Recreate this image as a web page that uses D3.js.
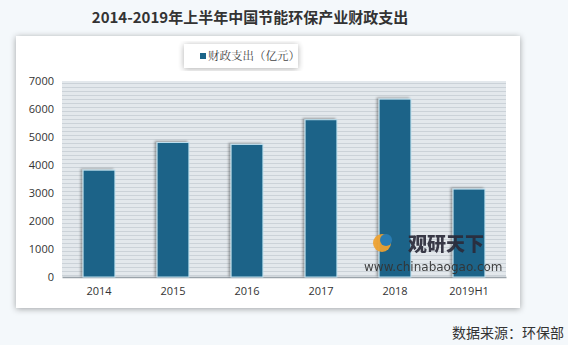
<!DOCTYPE html>
<html>
<head>
<meta charset="utf-8">
<script src="https://cdn.jsdelivr.net/npm/d3@7"></script>
<style>
  html, body { margin: 0; padding: 0; background: #f4f8fb; }
  svg { display: block; }
</style>
</head>
<body>
<script>
const years = ['2014', '2015', '2016', '2017', '2018', '2019H1'];
const spending = [3816, 4803, 4735, 5617, 6353, 3140];
const yTicks = [0, 1000, 2000, 3000, 4000, 5000, 6000, 7000];

const W = 568, H = 345;
const svg = d3.select('body').append('svg')
    .attr('width', W)
    .attr('height', H);

const defs = svg.append('defs');
const sh = defs.append('filter').attr('id', 'shadow')
    .attr('x', '-10%').attr('y', '-10%').attr('width', '120%').attr('height', '120%');
sh.append('feDropShadow').attr('dx', 0).attr('dy', 1).attr('stdDeviation', 3)
  .attr('flood-color', '#000').attr('flood-opacity', 0.35);
const bsh = defs.append('filter').attr('id', 'barShadow')
    .attr('x', '-30%').attr('y', '-10%').attr('width', '160%').attr('height', '120%');
bsh.append('feDropShadow').attr('dx', -2).attr('dy', -1).attr('stdDeviation', 1.2)
  .attr('flood-color', '#000').attr('flood-opacity', 0.35);
const stripes = defs.append('pattern').attr('id', 'stripes')
    .attr('patternUnits', 'userSpaceOnUse').attr('width', 8).attr('height', 4);
stripes.append('rect').attr('width', 8).attr('height', 4).attr('fill', '#e3e8ec');
stripes.append('rect').attr('y', 3).attr('width', 8).attr('height', 1).attr('fill', '#cbd2d8');

// title
svg.append('text')
    .attr('x', 250).attr('y', 23)
    .attr('text-anchor', 'middle')
    .style('font-family', '"Noto Sans CJK SC", "Noto Sans", sans-serif')
    .style('font-weight', 'bold')
    .style('font-size', '15px')
    .attr('fill', '#333')
    .text('2014-2019年上半年中国节能环保产业财政支出');

// panel
svg.append('rect')
    .attr('x', 16).attr('y', 36).attr('width', 504).attr('height', 272)
    .attr('fill', '#fff')
    .attr('filter', 'url(#shadow)');

const margin = {left: 62, right: 506, top: 81, bottom: 277};
const x = d3.scaleBand().domain(years).range([margin.left, margin.right]).paddingInner(0.57).paddingOuter(0.285);
const y = d3.scaleLinear().domain([0, 7000]).range([margin.bottom, margin.top]);

// plot background
svg.append('rect')
    .attr('x', margin.left).attr('y', margin.top)
    .attr('width', margin.right - margin.left).attr('height', margin.bottom - margin.top)
    .attr('fill', 'url(#stripes)');

// y axis
const yAxis = svg.append('g')
    .attr('transform', `translate(${margin.left},0)`)
    .call(d3.axisLeft(y).tickValues(yTicks).tickFormat(d3.format('d')).tickSize(0).tickPadding(8));
yAxis.select('.domain').remove();
yAxis.selectAll('text')
    .style('font-family', '"Open Sans", "DejaVu Sans", sans-serif')
    .style('font-size', '11px')
    .attr('fill', '#333');

// x axis
const xAxis = svg.append('g')
    .attr('transform', `translate(0,${margin.bottom})`)
    .call(d3.axisBottom(x).tickSize(0).tickPadding(10));
xAxis.select('.domain').attr('stroke', '#9aa3aa').attr('stroke-width', 1.5);
xAxis.selectAll('text')
    .style('font-family', '"Open Sans", "DejaVu Sans", sans-serif')
    .style('font-size', '11px')
    .attr('fill', '#333');

// bars
svg.append('g').selectAll('rect')
    .data(spending)
    .enter()
    .append('rect')
    .attr('x', (d, i) => x(years[i]))
    .attr('y', d => y(d))
    .attr('width', x.bandwidth())
    .attr('height', d => y(0) - y(d))
    .attr('fill', '#1b6488')
    .attr('stroke', '#bfe0ef')
    .attr('stroke-width', 1)
    .attr('filter', 'url(#barShadow)');

// legend
const lg = svg.append('g');
lg.append('rect')
    .attr('x', 184).attr('y', 44).attr('width', 114).attr('height', 24)
    .attr('fill', '#fff')
    .attr('filter', 'url(#shadow)')
    .attr('opacity', 0.9);
lg.append('rect')
    .attr('x', 200).attr('y', 53).attr('width', 6).attr('height', 6)
    .attr('fill', '#1b6488');
lg.append('text')
    .attr('x', 208).attr('y', 60)
    .style('font-family', '"Noto Serif CJK SC", "Noto Sans CJK SC", sans-serif')
    .style('font-size', '11.5px')
    .attr('fill', '#444')
    .text('财政支出（亿元）');

// watermark
const wm = svg.append('g').attr('opacity', 0.92);
wm.append('circle').attr('cx', 382).attr('cy', 243).attr('r', 9).attr('fill', '#f0a22e');
wm.append('circle').attr('cx', 386).attr('cy', 240).attr('r', 6).attr('fill', '#2a7fb8');
wm.append('text')
    .attr('x', 408).attr('y', 251)
    .style('font-family', '"Noto Sans CJK SC", sans-serif')
    .style('font-weight', '900')
    .style('font-size', '19px')
    .attr('fill', '#2b2b3a')
    .text('观研天下');
wm.append('text')
    .attr('x', 364).attr('y', 271)
    .style('font-family', '"DejaVu Sans", sans-serif')
    .style('font-size', '12px')
    .attr('fill', '#333')
    .text('www.chinabaogao.com');

// source
svg.append('text')
    .attr('x', 564).attr('y', 338)
    .attr('text-anchor', 'end')
    .style('font-family', '"Noto Sans CJK SC", sans-serif')
    .style('font-size', '14px')
    .attr('fill', '#333')
    .text('数据来源：环保部');
</script>
</body>
</html>
